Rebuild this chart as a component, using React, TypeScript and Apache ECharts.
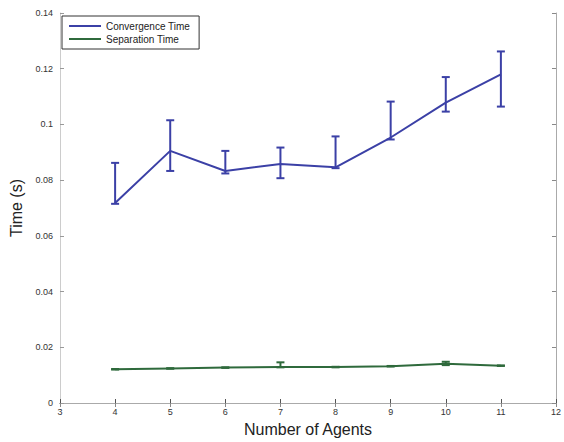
import React, { useEffect, useRef } from "react";
import * as echarts from "echarts";

const agents = [4, 5, 6, 7, 8, 9, 10, 11];
const convMean = [0.0718, 0.0905, 0.0833, 0.0858, 0.0846, 0.0953, 0.1078, 0.118];
const convLow = [0.0715, 0.0833, 0.0824, 0.0807, 0.0843, 0.0946, 0.1046, 0.1064];
const convHigh = [0.0862, 0.1015, 0.0905, 0.0917, 0.0957, 0.1082, 0.117, 0.1262];
const sepMean = [0.0121, 0.0124, 0.0127, 0.0129, 0.0129, 0.0132, 0.0141, 0.0134];
const sepLow = [0.012, 0.0123, 0.0126, 0.0128, 0.0128, 0.0131, 0.0136, 0.0133];
const sepHigh = [0.0122, 0.0125, 0.0128, 0.0146, 0.013, 0.0133, 0.0148, 0.0135];

const CONV_COLOR = "#3b40a6";
const SEP_COLOR = "#2f6a3c";
const FONT = "Liberation Sans, Arial, Helvetica, sans-serif";

function errorSeries(name: string, low: number[], high: number[], color: string) {
  return {
    type: "custom",
    name,
    data: agents.map((x, i) => [x, low[i], high[i]]),
    renderItem: (params: any, api: any) => {
      const x = api.value(0);
      const lo = api.coord([x, api.value(1)]);
      const hi = api.coord([x, api.value(2)]);
      const half = 4;
      const style = { stroke: color, lineWidth: 2 };
      return {
        type: "group",
        children: [
          { type: "line", shape: { x1: lo[0], y1: lo[1], x2: hi[0], y2: hi[1] }, style },
          { type: "line", shape: { x1: hi[0] - half, y1: hi[1], x2: hi[0] + half, y2: hi[1] }, style },
          { type: "line", shape: { x1: lo[0] - half, y1: lo[1], x2: lo[0] + half, y2: lo[1] }, style },
        ],
      };
    },
    z: 3,
    silent: true,
  };
}

export default function App() {
  const ref = useRef<HTMLDivElement>(null);
  useEffect(() => {
    document.body.style.margin = "0";
    const chart = echarts.init(ref.current!, undefined, { renderer: "svg" });
    const labelStyle = { color: "#333", fontSize: 9, fontFamily: FONT };
    const yFmt = (v: number) => String(parseFloat(v.toFixed(2)));
    chart.setOption({
      animation: false,
      backgroundColor: "#fff",
      grid: { left: 60, right: 5, top: 13, bottom: 37 },
      legend: {
        data: [
          { name: "Convergence Time", icon: "rect" },
          { name: "Separation Time", icon: "rect" },
        ],
        orient: "vertical",
        left: 62,
        top: 16,
        itemWidth: 32,
        itemHeight: 2,
        itemGap: 3,
        padding: [5, 9, 5, 7],
        borderColor: "#333",
        borderWidth: 1,
        backgroundColor: "#fff",
        textStyle: { fontSize: 10, color: "#222", fontFamily: FONT },
      },
      xAxis: [
        {
          type: "value",
          min: 3,
          max: 12,
          interval: 1,
          position: "bottom",
          name: "Number of Agents",
          nameLocation: "middle",
          nameGap: 18,
          nameTextStyle: { fontSize: 16, color: "#222", fontFamily: FONT },
          axisLine: { show: true, lineStyle: { color: "#444", width: 1 } },
          axisTick: { show: true, inside: true, length: 4, lineStyle: { color: "#555" } },
          axisLabel: { ...labelStyle, margin: 4 },
          splitLine: { show: false },
        },
        {
          type: "value",
          min: 3,
          max: 12,
          interval: 1,
          position: "top",
          axisLine: { show: true, lineStyle: { color: "#aaa", width: 1 } },
          axisTick: { show: true, inside: true, length: 4, lineStyle: { color: "#888" } },
          axisLabel: { show: false },
          splitLine: { show: false },
        },
      ],
      yAxis: [
        {
          type: "value",
          min: 0,
          max: 0.14,
          interval: 0.02,
          position: "left",
          name: "Time (s)",
          nameLocation: "middle",
          nameGap: 33,
          nameTextStyle: { fontSize: 16, color: "#222", fontFamily: FONT },
          axisLine: { show: true, lineStyle: { color: "#ccc", width: 1 } },
          axisTick: { show: true, inside: true, length: 4, lineStyle: { color: "#999" } },
          axisLabel: { ...labelStyle, margin: 7, formatter: yFmt },
          splitLine: { show: false },
        },
        {
          type: "value",
          min: 0,
          max: 0.14,
          interval: 0.02,
          position: "right",
          axisLine: { show: true, lineStyle: { color: "#aaa", width: 1 } },
          axisTick: { show: true, inside: true, length: 4, lineStyle: { color: "#888" } },
          axisLabel: { show: false },
          splitLine: { show: false },
        },
      ],
      series: [
        {
          type: "line",
          name: "Convergence Time",
          data: agents.map((x, i) => [x, convMean[i]]),
          showSymbol: false,
          symbol: "none",
          lineStyle: { color: CONV_COLOR, width: 2 },
          itemStyle: { color: CONV_COLOR },
          z: 4,
        },
        {
          type: "line",
          name: "Separation Time",
          data: agents.map((x, i) => [x, sepMean[i]]),
          showSymbol: false,
          symbol: "none",
          lineStyle: { color: SEP_COLOR, width: 2 },
          itemStyle: { color: SEP_COLOR },
          z: 4,
        },
        errorSeries("convErr", convLow, convHigh, CONV_COLOR),
        errorSeries("sepErr", sepLow, sepHigh, SEP_COLOR),
      ],
    });
    return () => chart.dispose();
  }, []);
  return <div ref={ref} style={{ width: 564, height: 442 }} />;
}
